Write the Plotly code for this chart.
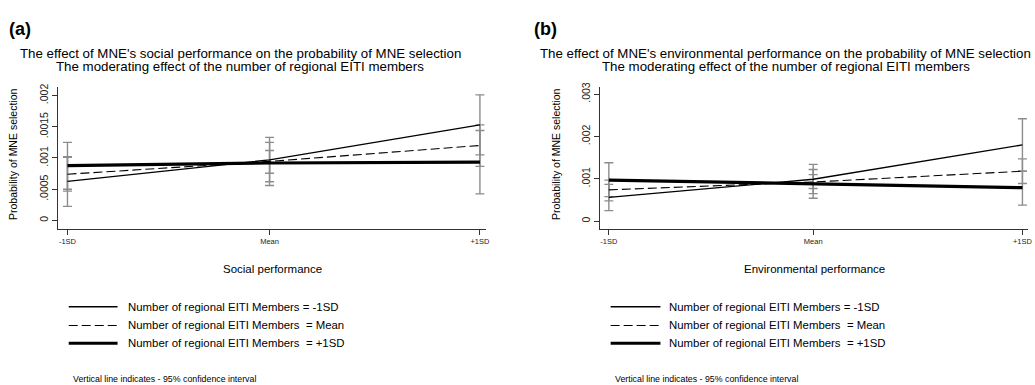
import plotly.graph_objects as go

# ---------------- data ----------------
tick_labels = ["-1SD", "Mean", "+1SD"]
social_x = [-1.0, -0.02, 1.0]
env_x = [-1.0, -0.012, 1.0]

# Panel (a): social performance
a_low = [0.000625, 0.00097, 0.00153]
a_low_lo = [0.000225, 0.00062, 0.00105]
a_low_hi = [0.00102, 0.00133, 0.00201]
a_mean = [0.00074, 0.000945, 0.00120]
a_mean_lo = [0.00047, 0.000756, 0.000866]
a_mean_hi = [0.00101, 0.00112, 0.00153]
a_high = [0.000877, 0.00092, 0.000935]
a_high_lo = [0.00050, 0.00056, 0.000425]
a_high_hi = [0.00125, 0.00125, 0.00144]

# Panel (b): environmental performance
b_low = [0.00056, 0.00099, 0.00180]
b_low_lo = [0.00025, 0.00065, 0.00118]
b_low_hi = [0.00087, 0.00134, 0.00242]
b_mean = [0.00074, 0.000925, 0.00118]
b_mean_lo = [0.00048, 0.00077, 0.00089]
b_mean_hi = [0.00097, 0.00110, 0.00147]
b_high = [0.00097, 0.00089, 0.00079]
b_high_lo = [0.00058, 0.00054, 0.00038]
b_high_hi = [0.00138, 0.00122, 0.00118]

a_yticks = [0, 0.0005, 0.001, 0.0015, 0.002]
a_yticktext = ["0", ".0005", ".001", ".0015", ".002"]
b_yticks = [0, 0.001, 0.002, 0.003]
b_yticktext = ["0", ".001", ".002", ".003"]

legend_labels = ["Number of regional EITI Members = -1SD",
                 "Number of regional EITI Members\u00a0 = Mean",
                 "Number of regional EITI Members\u00a0 = +1SD"]

# ---------------- styles ----------------
W, H = 1035, 385
FONT = "Liberation Sans, Arial, sans-serif"
CI_COLOR = "#8c8c8c"
AX_COLOR = "#333333"
line_styles = [dict(color="black", width=1.3),
               dict(color="black", width=1.1, dash="9px,4px"),
               dict(color="black", width=3.2)]


def px_x(p):
    return p / W


def px_y(p):
    return 1 - p / H


fig = go.Figure()


def add_panel(xv, series, xa, ya):
    # CIs first (under the lines)
    for (vals, lo, hi) in series:
        fig.add_trace(go.Scatter(
            x=xv, y=vals, mode="markers", xaxis=xa, yaxis=ya,
            marker=dict(size=1, color="rgba(0,0,0,0)"),
            error_y=dict(type="data", symmetric=False,
                         array=[h - v for h, v in zip(hi, vals)],
                         arrayminus=[v - l for v, l in zip(vals, lo)],
                         color=CI_COLOR, thickness=1.4, width=4.5),
            showlegend=False, hoverinfo="skip"))
    for (vals, lo, hi), st in zip(series, line_styles):
        fig.add_trace(go.Scatter(
            x=xv, y=vals, mode="lines", xaxis=xa, yaxis=ya,
            line=st, showlegend=False))


add_panel(social_x, [(a_low, a_low_lo, a_low_hi),
                     (a_mean, a_mean_lo, a_mean_hi),
                     (a_high, a_high_lo, a_high_hi)], "x", "y")
add_panel(env_x, [(b_low, b_low_lo, b_low_hi),
                  (b_mean, b_mean_lo, b_mean_hi),
                  (b_high, b_high_lo, b_high_hi)], "x2", "y2")

common_x = dict(showgrid=False, zeroline=False, showline=True, linecolor=AX_COLOR,
                linewidth=1, ticks="outside", ticklen=5, tickcolor=AX_COLOR,
                tickfont=dict(family=FONT, size=7.5, color="#222"))
common_y = dict(showgrid=False, zeroline=False, showline=True, linecolor=AX_COLOR,
                linewidth=1, ticks="outside", ticklen=5, tickcolor=AX_COLOR,
                tickangle=-90, tickfont=dict(family=FONT, size=10.5, color="#222"))

ydom = [px_y(227), px_y(83)]
fig.update_layout(
    xaxis=dict(domain=[px_x(58), px_x(488)], range=[-1.047, 1.030],
               tickvals=social_x, ticktext=tick_labels, anchor="y", **common_x),
    yaxis=dict(domain=ydom, range=[-0.000137, 0.002137], tickvals=a_yticks,
               ticktext=a_yticktext, anchor="x", **common_y),
    xaxis2=dict(domain=[px_x(602.7), px_x(1032)], range=[-1.041, 1.027],
                tickvals=env_x, ticktext=tick_labels, anchor="y2", **common_x),
    yaxis2=dict(domain=ydom, range=[-0.000186, 0.00317], tickvals=b_yticks,
                ticktext=b_yticktext, anchor="x2", **common_y),
    width=W, height=H, margin=dict(l=0, r=0, t=0, b=0),
    paper_bgcolor="white", plot_bgcolor="white", showlegend=False,
    font=dict(family=FONT, color="black"),
)

annotations = []
shapes = []


def ann(text, x, y, size, xanchor="center", bold=False, angle=0):
    annotations.append(dict(
        text=("<b>%s</b>" % text) if bold else text, x=px_x(x), y=px_y(y),
        xref="paper", yref="paper", xanchor=xanchor, yanchor="middle",
        showarrow=False, textangle=angle, borderpad=0,
        font=dict(family=FONT, size=size, color="black")))


panels = [
    dict(label="(a)", lx=8, cx=241,
         t1="The effect of MNE's social performance on the probability of MNE selection",
         xt="Social performance", xtx=274, ytx=13, leg_x0=69, leg_x1=118, leg_tx=127, fn_x=72),
    dict(label="(b)", lx=535, cx=789,
         t1="The effect of MNE's environmental performance on the probability of MNE selection",
         xt="Environmental performance", xtx=818, ytx=558, leg_x0=613, leg_x1=663, leg_tx=671, fn_x=616),
]
for p in panels:
    ann(p["label"], p["lx"], 24, 18, xanchor="left", bold=True)
    ann(p["t1"], p["cx"], 49, 13.3)
    ann("The moderating effect of the number of regional EITI members", p["cx"], 62, 13.3)
    ann(p["xt"], p["xtx"], 267, 11.5)
    ann("Probability of MNE selection", p["ytx"], 151, 10.5, angle=-90)
    for i, (lab, st) in enumerate(zip(legend_labels, line_styles)):
        yy = [305.7, 324.7, 342.7][i]
        shapes.append(dict(type="line", xref="paper", yref="paper",
                           x0=px_x(p["leg_x0"]), x1=px_x(p["leg_x1"]),
                           y0=px_y(yy), y1=px_y(yy), line=st))
        ann(lab, p["leg_tx"], yy, 11.4, xanchor="left")
    ann("Vertical line indicates - 95% confidence interval", p["fn_x"], 379, 8.8, xanchor="left")

fig.update_layout(annotations=annotations, shapes=shapes)
fig.write_html("out.html", config={"displayModeBar": False},
               post_script="document.body.style.margin='0px';document.body.style.overflow='hidden';")
